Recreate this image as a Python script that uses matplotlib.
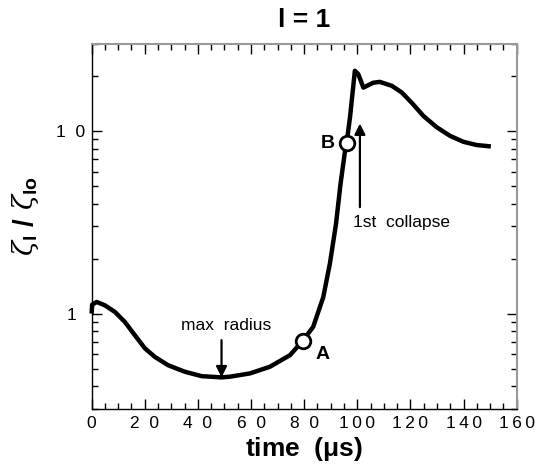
import numpy as np
import matplotlib
matplotlib.use("Agg")
import matplotlib.pyplot as plt
from matplotlib.ticker import FixedLocator, NullFormatter

plt.rcParams['font.family'] = ['Liberation Sans', 'DejaVu Sans']
plt.rcParams['mathtext.fontset'] = 'custom'
plt.rcParams['mathtext.rm'] = 'Liberation Sans'
plt.rcParams['mathtext.bf'] = 'Liberation Sans:bold'
plt.rcParams['mathtext.it'] = 'DejaVu Serif:italic'

# curve
time_us = [0.0, 0.2, 1.9, 5.0, 8.8, 12.5, 16.3, 20.1, 23.8, 28.8, 35.1, 41.4, 48.9,
           52.1, 59.6, 67.1, 74.7, 79.4, 83.4, 87.2, 89.7, 92.0, 93.7, 95.4, 96.0,
           97.3, 99.1, 100.4, 102.3, 106.0, 108.5, 113.0, 116.7, 120.5, 124.9,
           129.9, 134.9, 139.9, 145.0, 150.3]
ratio = [1.0, 1.12, 1.157, 1.11, 1.02, 0.90, 0.76, 0.644, 0.579, 0.521, 0.480, 0.454, 0.447,
         0.451, 0.470, 0.511, 0.592, 0.708, 0.845, 1.23, 1.88, 3.10, 5.13, 7.8, 8.6,
         12.0, 21.4, 20.5, 17.3, 18.4, 18.6, 17.7, 16.3, 14.3, 12.1,
         10.5, 9.42, 8.74, 8.38, 8.24]

marker_t = [79.4, 96.0]
marker_v = [0.708, 8.6]
marker_names = ['A', 'B']

x_ticks = [0, 20, 40, 60, 80, 100, 120, 140, 160]
x_tick_labels = ['0', '2  0', '4  0', '6  0', '8  0',
                 '1\u20090\u20090', '1\u20092\u20090', '1\u20094\u20090', '1\u20096\u20090']
y_ticks = [1, 10]
y_tick_labels = ['1\u2009 ', '1  0']

fig = plt.figure(figsize=(5.39, 4.70), dpi=100)
ax = fig.add_axes([0.170, 0.1298, 0.7885, 0.7766])

ax.plot(time_us, ratio, color='black', lw=3.2, solid_capstyle='butt',
        solid_joinstyle='round', zorder=3, clip_on=False)
ax.plot(marker_t, marker_v, 'o', ms=10.5, mfc='white', mec='black', mew=2, zorder=4)

ax.text(86.9, 0.600, marker_names[0], fontsize=14, fontweight='bold',
        ha='center', va='center')
ax.text(89.0, 8.6, marker_names[1], fontsize=14, fontweight='bold',
        ha='center', va='center')

# max radius arrow
ax.annotate('', xy=(48.9, 0.447), xytext=(48.9, 0.715),
            arrowprops=dict(arrowstyle='-|>', color='black', lw=1.6,
                            mutation_scale=16, shrinkA=0, shrinkB=0))
ax.text(50.5, 0.863, 'max  radius', fontsize=12.5, ha='center', va='center')

# 1st collapse arrow
ax.annotate('', xy=(101.0, 11.0), xytext=(101.0, 3.83),
            arrowprops=dict(arrowstyle='-|>', color='black', lw=1.6,
                            mutation_scale=16, shrinkA=0, shrinkB=0))
ax.text(98.5, 3.15, '1st  collapse', fontsize=12.5, ha='left', va='center')

ax.set_yscale('log')
ax.set_xlim(0, 160)
ax.set_ylim(0.3, 30)

ax.xaxis.set_major_locator(FixedLocator(x_ticks))
ax.set_xticklabels(x_tick_labels)
ax.xaxis.set_minor_locator(FixedLocator(np.arange(0, 161, 5)))
ax.yaxis.set_major_locator(FixedLocator(y_ticks))
ax.set_yticklabels(y_tick_labels)
ax.yaxis.set_minor_locator(FixedLocator([0.3, 0.4, 0.5, 0.6, 0.7, 0.8, 0.9,
                                         2, 3, 4, 5, 6, 7, 8, 9, 20, 30]))
ax.yaxis.set_minor_formatter(NullFormatter())

ax.tick_params(which='both', direction='in', top=True, right=True,
               color='black', width=1.0, labelsize=12.5)
ax.tick_params(which='major', length=7, pad=5)
ax.tick_params(which='minor', length=4)

for side in ['left', 'bottom']:
    ax.spines[side].set_color('black')
    ax.spines[side].set_linewidth(1.0)
for side in ['top', 'right']:
    ax.spines[side].set_color('#999999')
    ax.spines[side].set_linewidth(1.5)

ax.set_title('l = 1', fontsize=19, fontweight='bold', pad=12)
ax.set_xlabel(r'time  ($\mathregular{\mu}$s)', fontsize=19, fontweight='bold',
              labelpad=3)
ax.set_ylabel(r'$\zeta_{\mathbf{l}}\ \mathbf{/}\ \zeta_{\mathbf{lo}}$',
              fontsize=20)
ax.yaxis.label.set_va('center')
ax.yaxis.set_label_coords(-0.155, 0.529)

fig.savefig('out.png', dpi=100)
